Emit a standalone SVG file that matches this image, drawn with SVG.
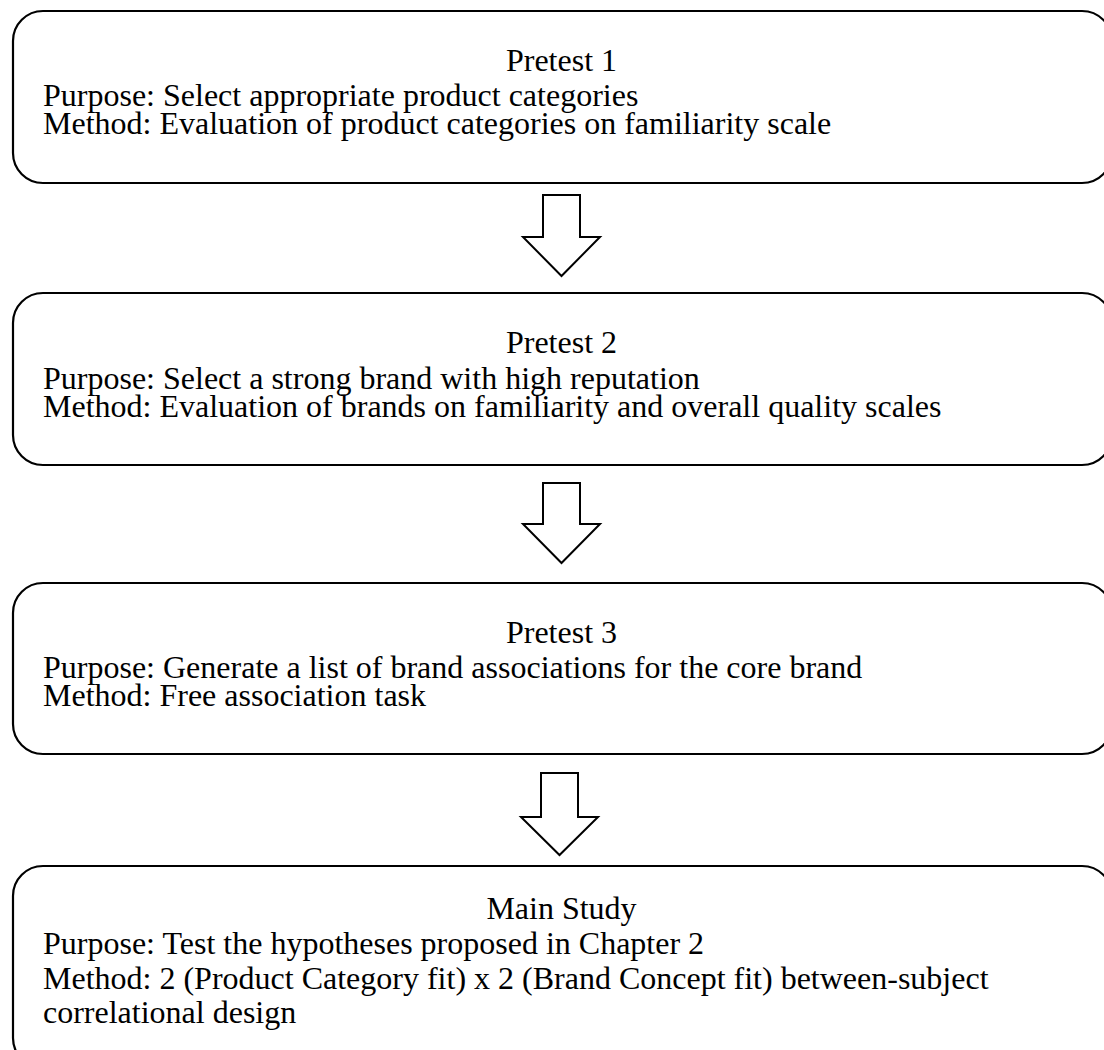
<svg xmlns="http://www.w3.org/2000/svg" width="1104" height="1050" viewBox="0 0 1104 1050">
<style>
.box{fill:#fff;stroke:#000;stroke-width:2.2}
.arr{fill:#fff;stroke:#000;stroke-width:2;stroke-linejoin:miter}
.t{font-family:"Liberation Serif","Times New Roman",serif;font-size:32px;fill:#000}
.c{text-anchor:middle}
</style>
<rect width="1104" height="1050" fill="#fff"/>
<g id="connectors">
<polygon class="arr" points="543,195 580,195 580,237 600,237 561.5,276 523,237 543,237"/>
<polygon class="arr" points="543,483 580,483 580,524 600,524 561.5,563 523,524 543,524"/>
<polygon class="arr" points="541,773 578,773 578,817 598,817 559.5,855 521,817 541,817"/>
</g>
<g id="pretest1">
<rect class="box" x="13" y="11" width="1099" height="172" rx="30" ry="30"/>
<text class="t"><tspan class="c" x="561.5" y="71">Pretest 1</tspan><tspan x="43" y="106">Purpose: Select appropriate product categories</tspan><tspan x="43" y="134">Method: Evaluation of product categories on familiarity scale</tspan></text>
</g>
<g id="pretest2">
<rect class="box" x="13" y="293" width="1099" height="172" rx="30" ry="30"/>
<text class="t"><tspan class="c" x="561.5" y="353">Pretest 2</tspan><tspan x="43" y="389">Purpose: Select a strong brand with high reputation</tspan><tspan x="43" y="417">Method: Evaluation of brands on familiarity and overall quality scales</tspan></text>
</g>
<g id="pretest3">
<rect class="box" x="13" y="583" width="1099" height="171" rx="30" ry="30"/>
<text class="t"><tspan class="c" x="561.5" y="643">Pretest 3</tspan><tspan x="43" y="678">Purpose: Generate a list of brand associations for the core brand</tspan><tspan x="43" y="706">Method: Free association task</tspan></text>
</g>
<g id="mainstudy">
<rect class="box" x="13" y="866" width="1099" height="202" rx="30" ry="30"/>
<text class="t"><tspan class="c" x="561.5" y="919">Main Study</tspan><tspan x="43" y="954">Purpose: Test the hypotheses proposed in Chapter 2</tspan><tspan x="43" y="989">Method: 2 (Product Category fit) x 2 (Brand Concept fit) between-subject</tspan><tspan x="43" y="1023">correlational design</tspan></text>
</g>
</svg>
